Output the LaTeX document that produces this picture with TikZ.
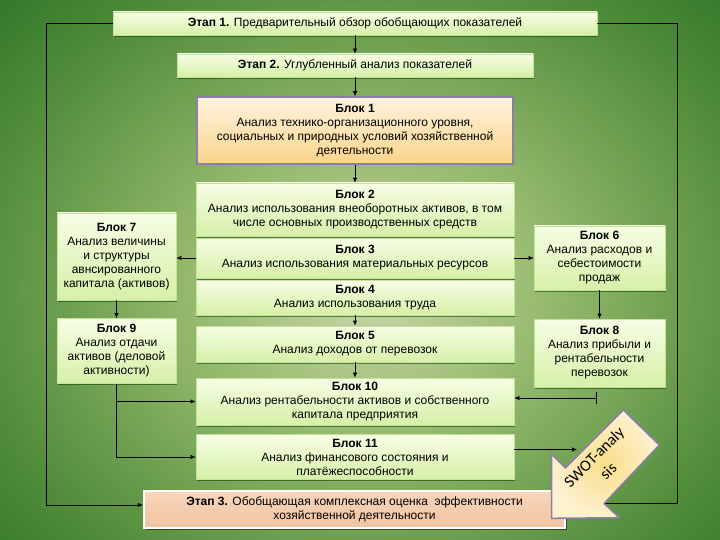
\documentclass[tikz,border=0pt]{standalone}
\usepackage{fontspec}
\setmainfont{Liberation Sans}
\newfontfamily\swotfont{Carlito}
\usetikzlibrary{arrows.meta, shadows}

\definecolor{bgdark}{RGB}{30,106,30}
\definecolor{bgmid}{RGB}{80,140,58}
\definecolor{bgsoft}{RGB}{150,186,110}
\definecolor{bglight}{RGB}{204,214,168}
\definecolor{boxtop}{RGB}{246,254,228}
\definecolor{boxbot}{RGB}{214,240,168}
\definecolor{boxline}{RGB}{196,226,156}
\definecolor{creamtop}{RGB}{254,243,222}
\definecolor{creambot}{RGB}{251,212,138}
\definecolor{framegray}{RGB}{140,126,168}
\definecolor{peachtop}{RGB}{248,214,188}
\definecolor{peachbot}{RGB}{240,196,162}
\definecolor{swotcore}{RGB}{250,222,138}
\definecolor{swotrim}{RGB}{253,241,208}

\pgfdeclareradialshading{bgglow}{\pgfpoint{0bp}{0bp}}{color(0bp)=(bglight); color(11bp)=(bgsoft); color(25bp)=(bgmid); color(37bp)=(bgdark); color(50bp)=(bgdark)}

\begin{document}
\begin{tikzpicture}[x=1pt, y=-1pt,
  txt/.style={font=\fontsize{12}{14}\selectfont, align=center, inner sep=2pt},
  stage/.style={txt, draw=boxline, line width=0.6pt, top color=boxtop, bottom color=boxbot,
    drop shadow={shadow xshift=1.2pt, shadow yshift=-1.8pt, opacity=0.55, fill=black!75!green}},
  keyblock/.style={txt, draw=framegray, line width=1.5pt, top color=creamtop, bottom color=creambot},
  finalstage/.style={txt, draw=white, line width=2pt, top color=peachtop, bottom color=peachbot,
    drop shadow={shadow xshift=1.5pt, shadow yshift=-2pt, opacity=0.5, fill=black}},
  conn/.style={-{Latex[length=5pt,width=4.5pt]}, line width=0.8pt},
  plain/.style={line width=0.8pt}]

\useasboundingbox (0,0) rectangle (720,540);

% --- Background glow ---
\begin{scope}
  \clip (0,0) rectangle (720,540);
  \shade[shading=bgglow] (-30,-40) rectangle (770,620);
\end{scope}

% --- Stages and central column ---
\node[stage, minimum width=484pt, minimum height=23pt] (e1) at (355,23.5)
  {\textbf{Этап 1.} Предварительный обзор обобщающих показателей};
\node[stage, minimum width=356pt, minimum height=23pt] (e2) at (355,65.5)
  {\textbf{Этап 2.} Углубленный анализ показателей};
\node[keyblock, minimum width=316pt, minimum height=67pt] (b1) at (355,130.5)
  {\textbf{Блок 1}\\Анализ технико-организационного уровня,\\социальных и природных условий хозяйственной\\деятельности};
\node[stage, minimum width=318pt, minimum height=53pt] (b2) at (355,209.5)
  {\textbf{Блок 2}\\Анализ использования внеоборотных активов, в том\\числе основных производственных средств};
\node[stage, minimum width=318pt, minimum height=40pt] (b3) at (355,258)
  {\textbf{Блок 3}\\Анализ использования материальных ресурсов};
\node[stage, minimum width=318pt, minimum height=35pt] (b4) at (355,297.5)
  {\textbf{Блок 4}\\Анализ использования труда};
\node[stage, minimum width=318pt, minimum height=36pt] (b5) at (355,344)
  {\textbf{Блок 5}\\Анализ доходов от перевозок};
\node[stage, minimum width=318pt, minimum height=47pt] (b10) at (355,401.5)
  {\textbf{Блок 10}\\Анализ рентабельности активов и собственного\\капитала предприятия};
\node[stage, minimum width=318pt, minimum height=45pt] (b11) at (355,457)
  {\textbf{Блок 11}\\Анализ финансового состояния и\\платёжеспособности};

% --- Side blocks ---
\node[stage, minimum width=119pt, minimum height=87pt] (b7) at (116.5,256.5)
  {\textbf{Блок 7}\\Анализ величины\\и структуры\\авнсированного\\капитала (активов)};
\node[stage, minimum width=119pt, minimum height=65pt] (b9) at (116.5,351)
  {\textbf{Блок 9}\\Анализ отдачи\\активов (деловой\\активности)};
\node[stage, minimum width=131pt, minimum height=64pt] (b6) at (599.5,258)
  {\textbf{Блок 6}\\Анализ расходов и\\себестоимости\\продаж};
\node[stage, minimum width=131pt, minimum height=68pt] (b8) at (599.5,353)
  {\textbf{Блок 8}\\Анализ прибыли и\\рентабельности\\перевозок};

\node[finalstage, minimum width=421pt, minimum height=37pt] (e3) at (354.5,509)
  {\textbf{Этап 3.} Обобщающая комплексная оценка\ \ эффективности\\хозяйственной деятельности};

% --- SWOT arrow corners ---
\coordinate (swtip) at (551.7,518.3);
\coordinate (swup) at (551.7,454.3);
\coordinate (swinl) at (565.3,468);
\coordinate (swtl) at (623.3,410);
\coordinate (swtr) at (659.3,445);
\coordinate (swinr) at (604,503.5);
\coordinate (swlow) at (619.3,517.7);

% --- Connectors ---
\draw[conn] (e1) -- (e2);
\draw[conn] (e2) -- (b1);
\draw[conn] (b1) -- (b2);
\draw[conn] (b4) -- (b5);
\draw[conn] (b5) -- (b10);
\draw[conn] (b3.west) -- (b3.west -| b7.east);
\draw[conn] (b3.east) -- (b3.east -| b6.west);
\draw[conn] (b7) -- (b9);
\draw[conn] (b6) -- (b8);
\draw[conn] (b9.south) |- (b11.west);
\draw[conn] (b9.south |- b10.west) -- (b10.west);

\coordinate (tee) at (597,398);
\draw[{Bar[width=12pt]}-{Latex[length=5pt,width=4.5pt]}, line width=0.8pt] (tee) -- (tee -| b10.east);

\coordinate (swin) at (577,449.5);
\draw[conn] (b11.east |- swin) -- (swin);

% outer loop
\coordinate (lft) at (46,505);
\coordinate (rgt) at (677,503.5);
\draw[conn] (e1.west) -| (lft) -- (lft -| e3.west);
\draw[plain] (e1.east) -| (rgt) -- (swinr);

% --- SWOT arrow ---
\draw[framegray, line width=1.5pt, line join=round, inner color=swotcore, outer color=swotrim]
  (swtip) -- (swup) -- (swinl) -- (swtl) -- (swtr) -- (swinr) -- (swlow) -- cycle;
\node[font=\swotfont\fontsize{16}{20}\selectfont, align=center, rotate=45] (swot) at (601,464)
  {SWOT-analy\\sis};

\end{tikzpicture}
\end{document}
